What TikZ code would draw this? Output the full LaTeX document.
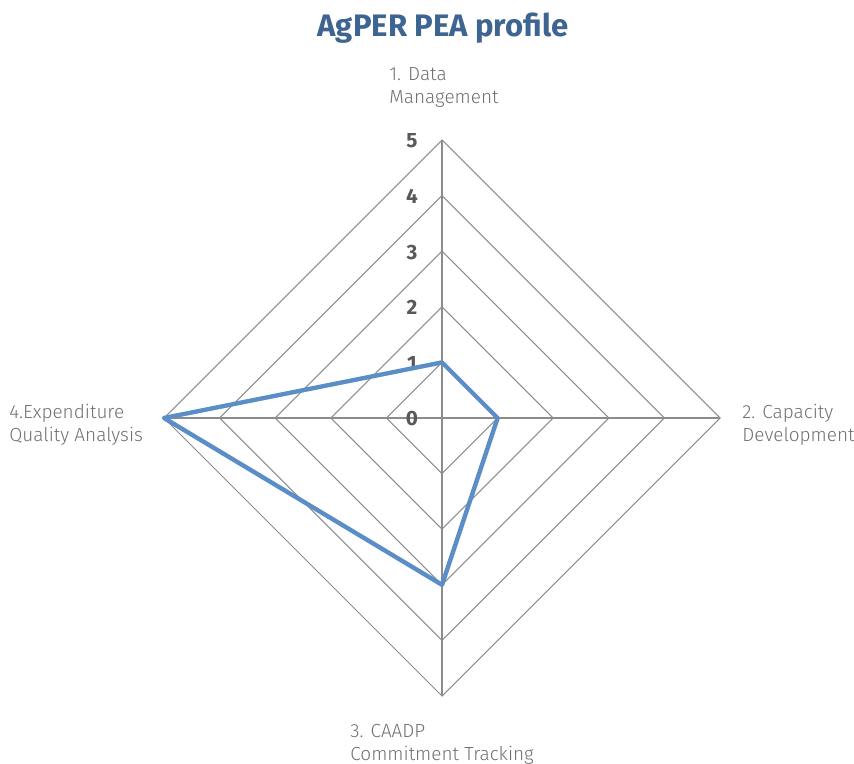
\documentclass[tikz,border=0pt]{standalone}
\usepackage{fontspec}
\setmainfont{Fira Sans}
\newfontfamily\lightfont{Fira Sans Light}
\usetikzlibrary{positioning}
\definecolor{titleblue}{HTML}{3E6491}
\definecolor{seriesblue}{HTML}{5B8EC6}
\definecolor{gridgray}{HTML}{8C8C8C}
\definecolor{labelgray}{HTML}{707070}
\definecolor{tickgray}{HTML}{595959}
\begin{document}
\begin{tikzpicture}[
    x=0.02cm, y=-0.02cm,
    ring/.style={draw=gridgray, line width=0.6pt},
    axislabel/.style={align=left, anchor=north west, inner sep=0pt, text=labelgray, font=\lightfont\fontsize{10.8}{13.1}\selectfont},
    ticklabel/.style={text=tickgray, font=\bfseries\fontsize{11.8}{13}\selectfont},
    series/.style={draw=seriesblue, line width=2.5pt, line join=round}
]
    \useasboundingbox (0,0) rectangle (854,763);

    % Title
    \node[anchor=base, text=titleblue, font=\bfseries\fontsize{17.7}{20}\selectfont] (title) at (443,37) {AgPER PEA profile};

    % Axis tips
    \coordinate (ctr) at (442,418);
    \coordinate (tipA) at (442,140);
    \coordinate (tipB) at (720,418);
    \coordinate (tipC) at (442,696);
    \coordinate (tipD) at (164,418);

    % Rings
    \foreach \r in {1,...,5}
        \draw[ring] (442,{418-55.6*\r}) -- ({442+55.6*\r},418) -- (442,{418+55.6*\r}) -- ({442-55.6*\r},418) -- cycle;

    % Spokes
    \foreach \t in {tipA,tipB,tipC,tipD}
        \draw[ring] (ctr) -- (\t);

    % Scale labels
    \foreach \r in {0,...,5}
        \node[ticklabel] (tick\r) at (412,{419-55.6*\r}) {\r};

    % Data
    \coordinate (valA) at (442,362.4);
    \coordinate (valB) at (497.6,418);
    \coordinate (valC) at (442,584.8);
    \coordinate (valD) at (164,418);
    \draw[series] (valA) -- (valB) -- (valC) -- (valD) -- cycle;

    % Axis labels
    \node[axislabel] (labA) at (389,67) {1. Data\\Management};
    \node[axislabel] (labB) at (742,404) {2. Capacity\\Development};
    \node[axislabel] (labC) at (350,724) {3. CAADP\\Commitment Tracking};
    \node[axislabel] (labD) at (9,404) {4.Expenditure\\Quality Analysis};
\end{tikzpicture}
\end{document}
